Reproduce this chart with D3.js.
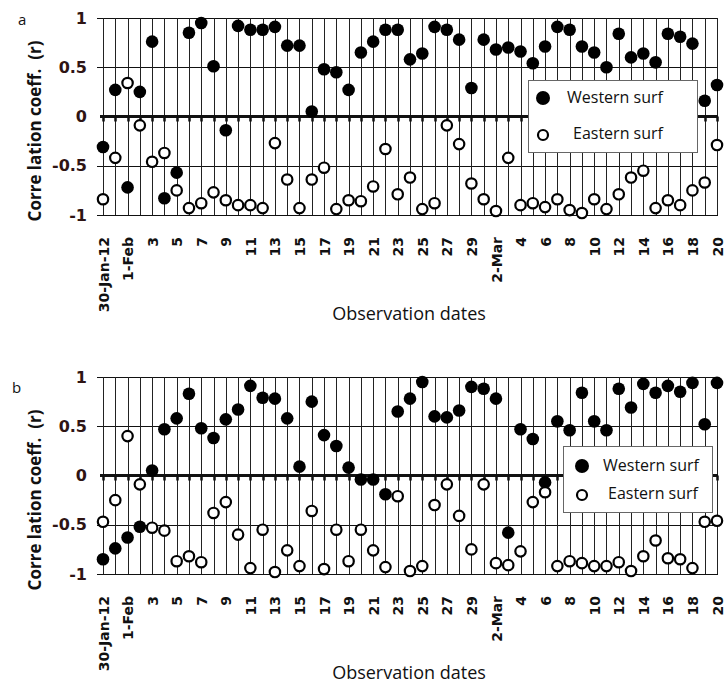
<!DOCTYPE html>
<html>
<head>
<meta charset="utf-8">
<script src="https://cdn.jsdelivr.net/npm/d3@7"></script>
<style>
  body { margin: 0; background: #fff; }
  svg { display: block; }
  .axis-y text { font-family: "DejaVu Sans", sans-serif; font-weight: bold; font-size: 16px; fill: #2e1414; }
  .axis-x text { font-family: "DejaVu Sans", sans-serif; font-weight: bold; font-size: 14px; fill: #111; }
  .title-y { font-family: "Open Sans", sans-serif; font-weight: bold; font-size: 17px; fill: #111; white-space: pre; }
  .title-x { font-family: "Open Sans", sans-serif; font-size: 18px; fill: #111; }
  .panel-label { font-family: "Open Sans", sans-serif; font-size: 15px; fill: #111; }
  .legend text { font-family: "Open Sans", sans-serif; font-size: 16px; fill: #111; }
</style>
</head>
<body>
<div id="chart"></div>
<script>
// observation dates (30 Jan - 20 Mar 2012)
const dates = [
  '30-Jan', '31-Jan',
  '1-Feb', '2-Feb', '3-Feb', '4-Feb', '5-Feb', '6-Feb', '7-Feb', '8-Feb', '9-Feb', '10-Feb',
  '11-Feb', '12-Feb', '13-Feb', '14-Feb', '15-Feb', '16-Feb', '17-Feb', '18-Feb', '19-Feb', '20-Feb',
  '21-Feb', '22-Feb', '23-Feb', '24-Feb', '25-Feb', '26-Feb', '27-Feb', '28-Feb', '29-Feb',
  '1-Mar', '2-Mar', '3-Mar', '4-Mar', '5-Mar', '6-Mar', '7-Mar', '8-Mar', '9-Mar', '10-Mar',
  '11-Mar', '12-Mar', '13-Mar', '14-Mar', '15-Mar', '16-Mar', '17-Mar', '18-Mar', '19-Mar', '20-Mar'
];

// labels shown on every second date
const tickLabels = ['30-Jan-12', '1-Feb', '3', '5', '7', '9', '11', '13', '15', '17', '19', '21', '23',
  '25', '27', '29', '2-Mar', '4', '6', '8', '10', '12', '14', '16', '18', '20'];

const yTicks = [-1, -0.5, 0, 0.5, 1];

// panel a
const westA = [-0.31, 0.27, -0.72, 0.25, 0.76, -0.83, -0.57, 0.85, 0.95, 0.51, -0.14, 0.92, 0.88, 0.88,
  0.91, 0.72, 0.72, 0.05, 0.48, 0.45, 0.27, 0.65, 0.76, 0.88, 0.88, 0.58, 0.64, 0.91, 0.88, 0.78, 0.29,
  0.78, 0.68, 0.70, 0.66, 0.54, 0.71, 0.91, 0.88, 0.71, 0.65, 0.50, 0.84, 0.60, 0.64, 0.55, 0.84, 0.81,
  0.74, 0.16, 0.32];
const eastA = [-0.84, -0.42, 0.34, -0.09, -0.46, -0.37, -0.75, -0.93, -0.88, -0.77, -0.85, -0.90, -0.90,
  -0.93, -0.27, -0.64, -0.93, -0.64, -0.52, -0.94, -0.85, -0.86, -0.71, -0.33, -0.79, -0.62, -0.94, -0.88,
  -0.09, -0.28, -0.68, -0.84, -0.96, -0.42, -0.90, -0.88, -0.92, -0.84, -0.95, -0.98, -0.84, -0.94, -0.79,
  -0.62, -0.55, -0.93, -0.85, -0.90, -0.75, -0.67, -0.29];

// panel b
const westB = [-0.85, -0.74, -0.63, -0.52, 0.05, 0.47, 0.58, 0.83, 0.48, 0.38, 0.57, 0.67, 0.91, 0.79,
  0.78, 0.58, 0.09, 0.75, 0.41, 0.30, 0.08, -0.04, -0.04, -0.19, 0.65, 0.78, 0.95, 0.60, 0.59, 0.66, 0.90,
  0.88, 0.78, -0.58, 0.47, 0.37, -0.07, 0.55, 0.46, 0.84, 0.55, 0.46, 0.88, 0.69, 0.93, 0.84, 0.91, 0.85,
  0.94, 0.52, 0.94];
const eastB = [-0.47, -0.25, 0.40, -0.09, -0.53, -0.56, -0.87, -0.82, -0.88, -0.38, -0.27, -0.60, -0.94,
  -0.55, -0.98, -0.76, -0.92, -0.36, -0.95, -0.55, -0.87, -0.55, -0.76, -0.93, -0.21, -0.97, -0.92, -0.30,
  -0.09, -0.41, -0.75, -0.09, -0.89, -0.91, -0.77, -0.27, -0.17, -0.92, -0.87, -0.89, -0.92, -0.92, -0.88,
  -0.97, -0.82, -0.66, -0.84, -0.85, -0.94, -0.47, -0.46];

const width = 725;
const height = 688;
const plotW = 620;
const plotH = 197;

const panels = [
  { label: 'a', west: westA, east: eastA, left: 97, top: 18, labelX: 18, labelY: 25, titleY: 131, xTitleY: 320,
    legend: { x: 431, y: 62, w: 169, h: 72, mx: 15, r1: 18, r2: 55, tx1: 39, tx2: 45 } },
  { label: 'b', west: westB, east: eastB, left: 97, top: 377, labelX: 12, labelY: 393, titleY: 500, xTitleY: 679,
    legend: { x: 466, y: 69, w: 149, h: 66, mx: 19, r1: 20, r2: 49, tx1: 40, tx2: 45 } }
];

const svg = d3.select('#chart')
  .append('svg')
    .attr('width', width)
    .attr('height', height);

const xScale = d3.scalePoint()
  .domain(dates)
  .range([6, plotW]);

const yScale = d3.scaleLinear()
  .domain([-1, 1])
  .range([plotH, 0]);

const labelled = dates.filter((d, i) => i % 2 === 0);

panels.forEach(p => {
  const inner = svg.append('g')
    .attr('transform', `translate(${p.left}, ${p.top})`);

  // horizontal gridlines incl. top and bottom frame
  inner.selectAll('.hgrid')
    .data(yTicks.filter(d => d !== 0))
    .enter().append('line')
      .attr('class', 'hgrid')
      .attr('x1', 0)
      .attr('x2', plotW + 1)
      .attr('y1', d => Math.round(yScale(d)) + 0.5)
      .attr('y2', d => Math.round(yScale(d)) + 0.5)
      .attr('stroke', '#111')
      .attr('stroke-width', 1);

  // vertical gridlines at every date
  inner.selectAll('.vgrid')
    .data(dates)
    .enter().append('line')
      .attr('class', 'vgrid')
      .attr('x1', d => Math.round(xScale(d)) + 0.5)
      .attr('x2', d => Math.round(xScale(d)) + 0.5)
      .attr('y1', yScale(1))
      .attr('y2', yScale(-1))
      .attr('stroke', '#222')
      .attr('stroke-width', 1);

  // zero line with small tick marks
  inner.append('line')
    .attr('x1', 3)
    .attr('x2', plotW + 1)
    .attr('y1', yScale(0))
    .attr('y2', yScale(0))
    .attr('stroke', '#111')
    .attr('stroke-width', 3);

  inner.selectAll('.ztick')
    .data(dates)
    .enter().append('line')
      .attr('class', 'ztick')
      .attr('x1', d => Math.round(xScale(d)) + 0.5)
      .attr('x2', d => Math.round(xScale(d)) + 0.5)
      .attr('y1', yScale(0))
      .attr('y2', yScale(0) + 5)
      .attr('stroke', '#111')
      .attr('stroke-width', 2.5);

  // y axis
  const yAxis = d3.axisLeft(yScale)
    .tickValues(yTicks)
    .tickSize(0)
    .tickPadding(10)
    .tickFormat(d => String(d));

  inner.append('g')
    .attr('class', 'axis-y')
    .call(yAxis)
    .call(g => g.select('.domain').remove());

  // x axis, rotated labels
  const xAxis = d3.axisBottom(xScale)
    .tickValues(labelled)
    .tickSize(0)
    .tickFormat((d, i) => tickLabels[i]);

  inner.append('g')
    .attr('class', 'axis-x')
    .attr('transform', `translate(0, ${plotH})`)
    .call(xAxis)
    .call(g => g.select('.domain').remove())
    .selectAll('text')
      .attr('transform', 'rotate(-90)')
      .attr('x', -22)
      .attr('y', 0)
      .attr('dy', '0.36em')
      .attr('text-anchor', 'end');

  // western surf (filled)
  inner.selectAll('.west')
    .data(p.west)
    .enter().append('circle')
      .attr('class', 'west')
      .attr('cx', (d, i) => xScale(dates[i]))
      .attr('cy', d => yScale(d))
      .attr('r', 6.3)
      .attr('fill', '#000');

  // eastern surf (open)
  inner.selectAll('.east')
    .data(p.east)
    .enter().append('circle')
      .attr('class', 'east')
      .attr('cx', (d, i) => xScale(dates[i]))
      .attr('cy', d => yScale(d))
      .attr('r', 5.2)
      .attr('fill', '#fff')
      .attr('stroke', '#000')
      .attr('stroke-width', 2.2);

  // legend
  const lg = inner.append('g')
    .attr('class', 'legend')
    .attr('transform', `translate(${p.legend.x}, ${p.legend.y})`);

  lg.append('rect')
    .attr('x', 0.5)
    .attr('y', 0.5)
    .attr('width', p.legend.w)
    .attr('height', p.legend.h)
    .attr('fill', '#fff')
    .attr('stroke', '#666')
    .attr('stroke-width', 1);

  lg.append('circle')
    .attr('cx', p.legend.mx)
    .attr('cy', p.legend.r1)
    .attr('r', 7)
    .attr('fill', '#000');

  lg.append('circle')
    .attr('cx', p.legend.mx)
    .attr('cy', p.legend.r2)
    .attr('r', 5)
    .attr('fill', '#fff')
    .attr('stroke', '#000')
    .attr('stroke-width', 2.2);

  lg.append('text')
    .attr('x', p.legend.tx1)
    .attr('y', p.legend.r1 - 1)
    .attr('dy', '0.35em')
    .text('Western surf');

  lg.append('text')
    .attr('x', p.legend.tx2)
    .attr('y', p.legend.r2 - 2)
    .attr('dy', '0.35em')
    .text('Eastern surf');

  // titles
  svg.append('text')
    .attr('class', 'title-y')
    .attr('transform', `translate(41, ${p.titleY}) rotate(-90)`)
    .attr('text-anchor', 'middle')
    .text('Corre lation coeff.  (r)');

  svg.append('text')
    .attr('class', 'title-x')
    .attr('x', 409)
    .attr('y', p.xTitleY)
    .attr('text-anchor', 'middle')
    .text('Observation dates');

  svg.append('text')
    .attr('class', 'panel-label')
    .attr('x', p.labelX)
    .attr('y', p.labelY)
    .text(p.label);
});
</script>
</body>
</html>
